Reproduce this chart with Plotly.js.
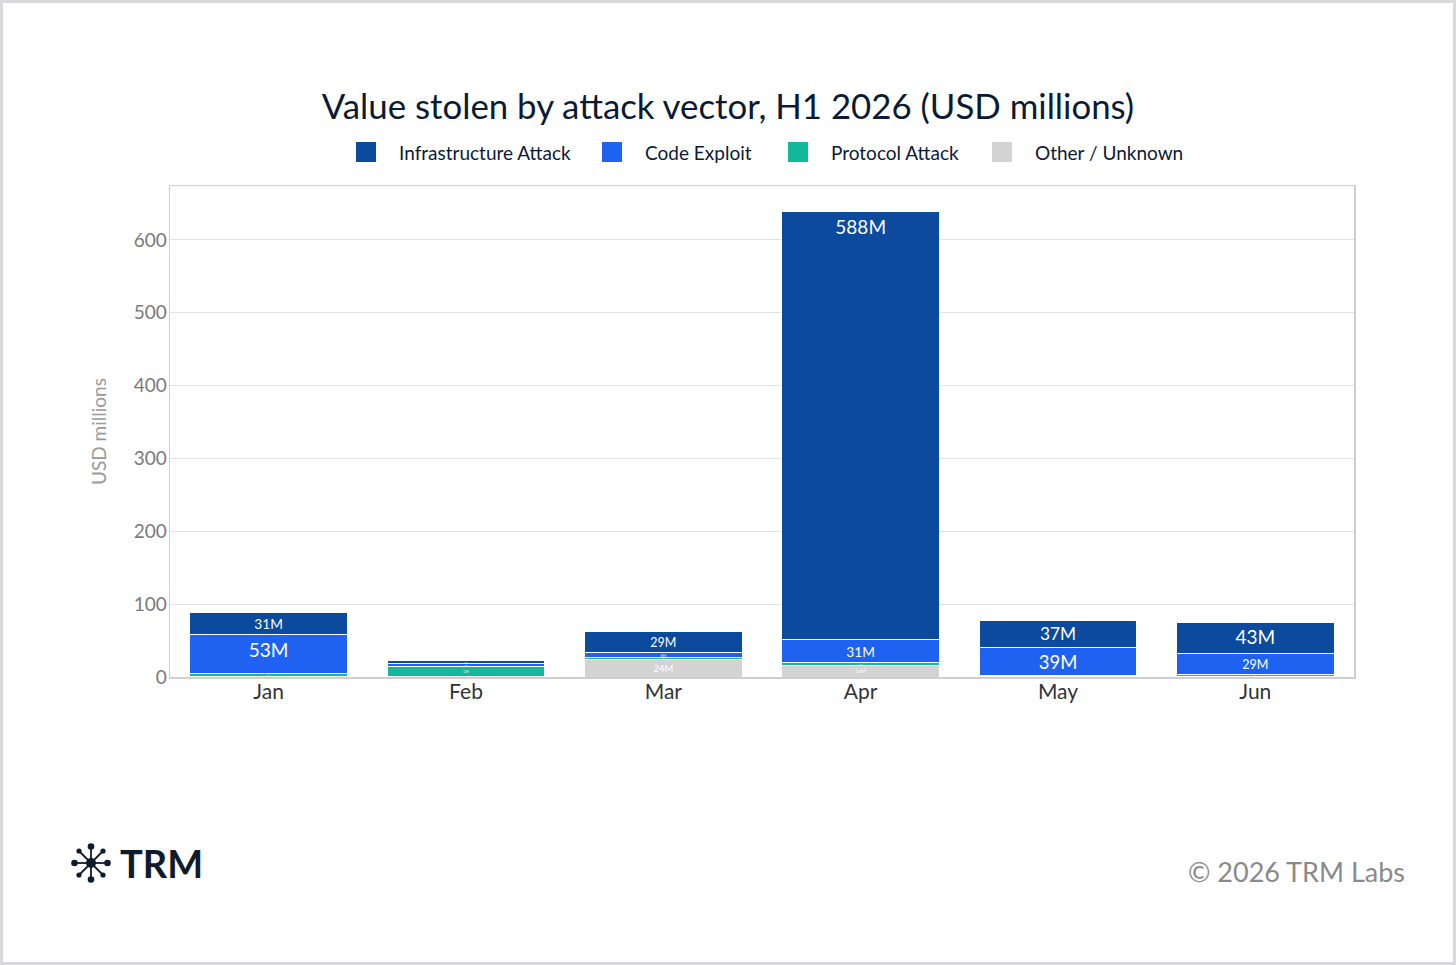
<!DOCTYPE html>
<html>
<head>
<meta charset="utf-8">
<script src="https://cdn.plot.ly/plotly-3.0.1.min.js"></script>
<style>
  html, body { margin: 0; padding: 0; background: #fff; }
  #wrap { position: relative; width: 1456px; height: 965px; }
  #chart { width: 1456px; height: 965px; }
  #frame { position: absolute; left: 0; top: 0; width: 1456px; height: 965px;
           box-sizing: border-box; border: 3px solid #d8d8dd; pointer-events: none; }
</style>
</head>
<body>
<div id="wrap">
  <div id="chart"></div>
  <div id="frame"></div>
</div>
<script>
// months and values (USD millions)
let months = ['Jan', 'Feb', 'Mar', 'Apr', 'May', 'Jun'];
let infrastructure = [31, 4, 29, 588, 37, 43];
let codeExploit = [53, 4, 6, 31, 39, 29];
let protocolAttack = [4, 13, 3, 4, 1, 2];
let otherUnknown = [1, 1, 24, 16, 1, 1];

let seriesNames = ['Infrastructure Attack', 'Code Exploit', 'Protocol Attack', 'Other / Unknown'];
let seriesColors = ['#0b4a9c', '#1f62f2', '#14b89a', '#d3d3d3'];

// plot area in pixels, used to place the legend / footer in paper coords
let plotL = 170, plotW = 1184, plotB = 677, plotH = 491;
let px = (x) => (x - plotL) / plotW;
let py = (y) => (plotB - y) / plotH;

function makeTrace(name, values, color) {
    return {
        type: 'bar',
        name: name,
        x: months,
        y: values,
        marker: { color: color, line: { color: '#ffffff', width: 1 } },
        texttemplate: '%{y:.0f}M',
        textposition: 'inside',
        textangle: 0,
        insidetextfont: { color: '#ffffff', size: 19, family: 'Lato, sans-serif' },
        hoverinfo: 'x+y+name'
    };
}

// stacked bottom -> top
let data = [
    makeTrace(seriesNames[3], otherUnknown, seriesColors[3]),
    makeTrace(seriesNames[2], protocolAttack, seriesColors[2]),
    makeTrace(seriesNames[1], codeExploit, seriesColors[1]),
    makeTrace(seriesNames[0], infrastructure, seriesColors[0])
];

// legend drawn by hand so the swatches can be the big squares of the original
let legendX = [356, 602, 788, 992];
let legendShapes = [];
let legendNotes = [];
for (let i = 0; i < seriesNames.length; i++) {
    legendShapes.push({
        type: 'rect',
        xref: 'paper', yref: 'paper',
        x0: px(legendX[i]), x1: px(legendX[i] + 20),
        y0: py(162), y1: py(142),
        fillcolor: seriesColors[i],
        line: { width: 0 }
    });
    legendNotes.push({
        xref: 'paper', yref: 'paper',
        x: px(legendX[i] + 41), y: py(152),
        text: seriesNames[i],
        showarrow: false,
        xanchor: 'left', yanchor: 'middle',
        font: { size: 19, color: '#0b1a33' }
    });
}

// tiny TRM mark
let iconSvg = '<svg xmlns="http://www.w3.org/2000/svg" width="40" height="40" viewBox="-20 -20 40 40">' +
    '<g stroke="#0e1b2c" stroke-width="1.8" fill="#0e1b2c">' +
    '<line x1="0" y1="-16" x2="0" y2="16"/><line x1="-16" y1="0" x2="16" y2="0"/>' +
    '<line x1="-12" y1="-12" x2="12" y2="12"/><line x1="-12" y1="12" x2="12" y2="-12"/>' +
    '</g><g fill="#0e1b2c">' +
    '<circle cx="0" cy="0" r="5"/>' +
    '<circle cx="0" cy="-16.5" r="3.3"/><circle cx="0" cy="16.5" r="3.3"/>' +
    '<circle cx="-16.5" cy="0" r="3.3"/><circle cx="16.5" cy="0" r="3.3"/>' +
    '<circle cx="-12" cy="-12" r="2.6"/><circle cx="12" cy="-12" r="2.6"/>' +
    '<circle cx="-12" cy="12" r="2.6"/><circle cx="12" cy="12" r="2.6"/>' +
    '</g></svg>';

let layout = {
    width: 1456,
    height: 965,
    margin: { l: 170, r: 102, t: 186, b: 288 },
    paper_bgcolor: '#ffffff',
    plot_bgcolor: '#ffffff',
    font: { family: 'Lato, "Open Sans", sans-serif', color: '#333' },
    barmode: 'stack',
    bargap: 0.2,
    showlegend: false,
    title: {
        text: 'Value stolen by attack vector, H1 2026 (USD millions)',
        xref: 'container',
        x: 0.5,
        xanchor: 'center',
        yref: 'container',
        y: 1 - 107 / 965,
        yanchor: 'middle',
        font: { size: 34.8, color: '#0b1a33', family: 'Lato, sans-serif' }
    },
    xaxis: {
        type: 'category',
        showline: true,
        mirror: true,
        linecolor: '#cfcfcf',
        linewidth: 1.5,
        showgrid: false,
        ticklabelstandoff: -5,
        tickfont: { size: 21, color: '#333' }
    },
    yaxis: {
        range: [0, 674],
        dtick: 100,
        showline: true,
        mirror: true,
        linecolor: '#cfcfcf',
        linewidth: 1.5,
        gridcolor: '#e3e3e3',
        gridwidth: 1,
        zeroline: false,
        ticklabelstandoff: -2,
        tickfont: { size: 19, color: '#7a7a7a' },
        title: { text: 'USD millions', font: { size: 19, color: '#9a9a9a' }, standoff: 22 }
    },
    shapes: legendShapes,
    images: [
        {
            source: 'data:image/svg+xml;charset=utf-8,' + encodeURIComponent(iconSvg),
            xref: 'paper',
            yref: 'paper',
            x: px(71),
            y: py(843),
            sizex: 40 / plotW,
            sizey: 40 / plotH,
            xanchor: 'left',
            yanchor: 'top',
            sizing: 'contain',
            layer: 'above'
        }
    ],
    annotations: legendNotes.concat([
        {
            xref: 'paper',
            yref: 'paper',
            x: px(118),
            y: py(863),
            text: '<b>TRM</b>',
            showarrow: false,
            xanchor: 'left',
            yanchor: 'middle',
            font: { size: 38, color: '#0e1b2c', family: 'Lato, sans-serif' }
        },
        {
            xref: 'paper',
            yref: 'paper',
            x: px(1407),
            y: py(871),
            text: '© 2026 TRM Labs',
            showarrow: false,
            xanchor: 'right',
            yanchor: 'middle',
            font: { size: 27, color: '#8a8a8a', family: 'Lato, sans-serif' }
        }
    ])
};

Plotly.newPlot('chart', data, layout, { displayModeBar: false, staticPlot: true });
</script>
</body>
</html>
